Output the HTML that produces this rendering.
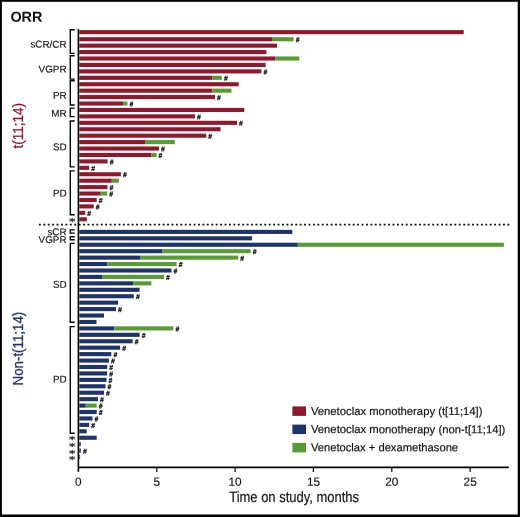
<!DOCTYPE html>
<html lang="en"><head><meta charset="utf-8"><title>ORR</title>
<style>html,body{margin:0;padding:0;background:#fff}svg{display:block}text{font-family:"Liberation Sans",Arial,Helvetica,sans-serif}text.ast{font-family:"DejaVu Sans","Liberation Sans",sans-serif}</style></head><body>
<svg width="520" height="517" viewBox="0 0 520 517">
<rect x="0" y="0" width="520" height="517" fill="#fff"/>
<rect x="0" y="0" width="520" height="1.8" fill="#000"/><rect x="0" y="0" width="1.9" height="517" fill="#000"/><rect x="517.7" y="0" width="2.3" height="517" fill="#000"/><rect x="0" y="514.5" width="520" height="2.5" fill="#000"/>
<text transform="rotate(0.03 10.40 21.80)" x="10.40" y="21.80" font-size="14.4" font-weight="bold" fill="#111">ORR</text>
<g shape-rendering="auto">
<rect x="79.3" y="30.10" width="384.4" height="4.1" fill="#8f182c"/>
<rect x="79.3" y="37.18" width="192.7" height="4.1" fill="#8f182c"/>
<rect x="272" y="37.18" width="21.6" height="4.1" fill="#579c32"/>
<rect x="79.3" y="43.61" width="197.7" height="4.1" fill="#8f182c"/>
<rect x="79.3" y="50.04" width="187.1" height="4.1" fill="#8f182c"/>
<rect x="79.3" y="56.47" width="195.9" height="4.1" fill="#8f182c"/>
<rect x="275.2" y="56.47" width="24.1" height="4.1" fill="#579c32"/>
<rect x="79.3" y="62.90" width="186.3" height="4.1" fill="#8f182c"/>
<rect x="79.3" y="69.33" width="182.1" height="4.1" fill="#8f182c"/>
<rect x="79.3" y="75.76" width="133.2" height="4.1" fill="#8f182c"/>
<rect x="212.5" y="75.76" width="9.3" height="4.1" fill="#579c32"/>
<rect x="79.3" y="82.19" width="159.4" height="4.1" fill="#8f182c"/>
<rect x="79.3" y="88.62" width="133.2" height="4.1" fill="#8f182c"/>
<rect x="212.5" y="88.62" width="18.9" height="4.1" fill="#579c32"/>
<rect x="79.3" y="95.05" width="135.7" height="4.1" fill="#8f182c"/>
<rect x="79.3" y="101.48" width="43.7" height="4.1" fill="#8f182c"/>
<rect x="123" y="101.48" width="4.5" height="4.1" fill="#579c32"/>
<rect x="79.3" y="107.91" width="164.9" height="4.1" fill="#8f182c"/>
<rect x="79.3" y="114.34" width="115.7" height="4.1" fill="#8f182c"/>
<rect x="79.3" y="120.77" width="157.7" height="4.1" fill="#8f182c"/>
<rect x="79.3" y="127.20" width="141.3" height="4.1" fill="#8f182c"/>
<rect x="79.3" y="133.63" width="126.9" height="4.1" fill="#8f182c"/>
<rect x="79.3" y="140.06" width="65.8" height="4.1" fill="#8f182c"/>
<rect x="145.1" y="140.06" width="29.7" height="4.1" fill="#579c32"/>
<rect x="79.3" y="146.49" width="79.7" height="4.1" fill="#8f182c"/>
<rect x="79.3" y="152.92" width="72.1" height="4.1" fill="#8f182c"/>
<rect x="151.4" y="152.92" width="5.1" height="4.1" fill="#579c32"/>
<rect x="79.3" y="159.35" width="28.3" height="4.1" fill="#8f182c"/>
<rect x="79.3" y="165.78" width="9.9" height="4.1" fill="#8f182c"/>
<rect x="79.3" y="172.21" width="41.6" height="4.1" fill="#8f182c"/>
<rect x="79.3" y="178.64" width="32.5" height="4.1" fill="#8f182c"/>
<rect x="111.8" y="178.64" width="7.1" height="4.1" fill="#579c32"/>
<rect x="79.3" y="185.07" width="28.2" height="4.1" fill="#8f182c"/>
<rect x="79.3" y="191.50" width="20.7" height="4.1" fill="#8f182c"/>
<rect x="100" y="191.50" width="7.2" height="4.1" fill="#579c32"/>
<rect x="79.3" y="197.93" width="17.4" height="4.1" fill="#8f182c"/>
<rect x="79.3" y="204.36" width="14.4" height="4.1" fill="#8f182c"/>
<rect x="79.3" y="210.79" width="5.9" height="4.1" fill="#8f182c"/>
<rect x="79.3" y="217.22" width="7.5" height="4.1" fill="#8f182c"/>
<rect x="79.3" y="229.85" width="213.0" height="4.1" fill="#1e3369"/>
<rect x="79.3" y="236.28" width="172.7" height="4.1" fill="#1e3369"/>
<rect x="79.3" y="242.72" width="218.5" height="4.1" fill="#1e3369"/>
<rect x="297.8" y="242.72" width="206.1" height="4.1" fill="#579c32"/>
<rect x="79.3" y="249.15" width="82.9" height="4.1" fill="#1e3369"/>
<rect x="162.2" y="249.15" width="88.4" height="4.1" fill="#579c32"/>
<rect x="79.3" y="255.58" width="61.3" height="4.1" fill="#1e3369"/>
<rect x="140.6" y="255.58" width="97.6" height="4.1" fill="#579c32"/>
<rect x="79.3" y="262.01" width="28.2" height="4.1" fill="#1e3369"/>
<rect x="107.5" y="262.01" width="69.1" height="4.1" fill="#579c32"/>
<rect x="79.3" y="268.45" width="92.2" height="4.1" fill="#1e3369"/>
<rect x="79.3" y="274.88" width="22.7" height="4.1" fill="#1e3369"/>
<rect x="102" y="274.88" width="62.0" height="4.1" fill="#579c32"/>
<rect x="79.3" y="281.31" width="53.7" height="4.1" fill="#1e3369"/>
<rect x="133" y="281.31" width="18.4" height="4.1" fill="#579c32"/>
<rect x="79.3" y="287.75" width="60.3" height="4.1" fill="#1e3369"/>
<rect x="79.3" y="294.18" width="54.5" height="4.1" fill="#1e3369"/>
<rect x="79.3" y="300.61" width="38.8" height="4.1" fill="#1e3369"/>
<rect x="79.3" y="307.05" width="36.7" height="4.1" fill="#1e3369"/>
<rect x="79.3" y="313.48" width="24.7" height="4.1" fill="#1e3369"/>
<rect x="79.3" y="319.91" width="17.2" height="4.1" fill="#1e3369"/>
<rect x="79.3" y="326.35" width="35.0" height="4.1" fill="#1e3369"/>
<rect x="114.3" y="326.35" width="59.0" height="4.1" fill="#579c32"/>
<rect x="79.3" y="332.78" width="60.3" height="4.1" fill="#1e3369"/>
<rect x="79.3" y="339.21" width="53.3" height="4.1" fill="#1e3369"/>
<rect x="79.3" y="345.64" width="40.8" height="4.1" fill="#1e3369"/>
<rect x="79.3" y="352.08" width="32.0" height="4.1" fill="#1e3369"/>
<rect x="79.3" y="358.51" width="29.7" height="4.1" fill="#1e3369"/>
<rect x="79.3" y="364.94" width="27.9" height="4.1" fill="#1e3369"/>
<rect x="79.3" y="371.38" width="27.9" height="4.1" fill="#1e3369"/>
<rect x="79.3" y="377.81" width="27.2" height="4.1" fill="#1e3369"/>
<rect x="79.3" y="384.24" width="26.2" height="4.1" fill="#1e3369"/>
<rect x="79.3" y="390.67" width="24.7" height="4.1" fill="#1e3369"/>
<rect x="79.3" y="397.11" width="18.7" height="4.1" fill="#1e3369"/>
<rect x="79.3" y="403.54" width="6.5" height="4.1" fill="#1e3369"/>
<rect x="85.8" y="403.54" width="10.9" height="4.1" fill="#579c32"/>
<rect x="79.3" y="409.97" width="17.4" height="4.1" fill="#1e3369"/>
<rect x="79.3" y="416.41" width="13.2" height="4.1" fill="#1e3369"/>
<rect x="79.3" y="422.84" width="9.9" height="4.1" fill="#1e3369"/>
<rect x="79.3" y="429.27" width="7.4" height="4.1" fill="#1e3369"/>
<rect x="79.3" y="435.71" width="17.4" height="4.1" fill="#1e3369"/>
<rect x="79.3" y="442.14" width="1.5" height="4.1" fill="#1e3369"/>
<rect x="79.3" y="448.57" width="1.5" height="4.1" fill="#1e3369"/>
<rect x="79.3" y="455.00" width="0.8" height="4.1" fill="#1e3369"/>
</g>
<g font-size="6.6" font-weight="bold" font-style="italic" fill="#151515" stroke="#151515" stroke-width="0.3">
<text transform="rotate(0.03 295.70 42.03)" x="295.70" y="42.03">#</text>
<text transform="rotate(0.03 263.50 74.18)" x="263.50" y="74.18">#</text>
<text transform="rotate(0.03 223.90 80.61)" x="223.90" y="80.61">#</text>
<text transform="rotate(0.03 217.10 99.90)" x="217.10" y="99.90">#</text>
<text transform="rotate(0.03 129.60 106.33)" x="129.60" y="106.33">#</text>
<text transform="rotate(0.03 197.10 119.19)" x="197.10" y="119.19">#</text>
<text transform="rotate(0.03 239.10 125.62)" x="239.10" y="125.62">#</text>
<text transform="rotate(0.03 208.30 138.48)" x="208.30" y="138.48">#</text>
<text transform="rotate(0.03 161.10 151.34)" x="161.10" y="151.34">#</text>
<text transform="rotate(0.03 158.60 157.77)" x="158.60" y="157.77">#</text>
<text transform="rotate(0.03 109.70 164.20)" x="109.70" y="164.20">#</text>
<text transform="rotate(0.03 91.30 170.63)" x="91.30" y="170.63">#</text>
<text transform="rotate(0.03 123.00 177.06)" x="123.00" y="177.06">#</text>
<text transform="rotate(0.03 109.60 189.92)" x="109.60" y="189.92">#</text>
<text transform="rotate(0.03 109.30 196.35)" x="109.30" y="196.35">#</text>
<text transform="rotate(0.03 98.80 202.78)" x="98.80" y="202.78">#</text>
<text transform="rotate(0.03 95.80 209.21)" x="95.80" y="209.21">#</text>
<text transform="rotate(0.03 87.30 215.64)" x="87.30" y="215.64">#</text>
<text transform="rotate(0.03 252.70 254.00)" x="252.70" y="254.00">#</text>
<text transform="rotate(0.03 240.30 260.43)" x="240.30" y="260.43">#</text>
<text transform="rotate(0.03 178.70 266.87)" x="178.70" y="266.87">#</text>
<text transform="rotate(0.03 173.60 273.30)" x="173.60" y="273.30">#</text>
<text transform="rotate(0.03 166.10 279.73)" x="166.10" y="279.73">#</text>
<text transform="rotate(0.03 135.90 299.03)" x="135.90" y="299.03">#</text>
<text transform="rotate(0.03 118.10 311.90)" x="118.10" y="311.90">#</text>
<text transform="rotate(0.03 175.40 331.20)" x="175.40" y="331.20">#</text>
<text transform="rotate(0.03 141.70 337.63)" x="141.70" y="337.63">#</text>
<text transform="rotate(0.03 134.70 344.06)" x="134.70" y="344.06">#</text>
<text transform="rotate(0.03 122.20 350.49)" x="122.20" y="350.49">#</text>
<text transform="rotate(0.03 113.40 356.93)" x="113.40" y="356.93">#</text>
<text transform="rotate(0.03 111.10 363.36)" x="111.10" y="363.36">#</text>
<text transform="rotate(0.03 109.30 369.79)" x="109.30" y="369.79">#</text>
<text transform="rotate(0.03 109.30 376.23)" x="109.30" y="376.23">#</text>
<text transform="rotate(0.03 108.60 382.66)" x="108.60" y="382.66">#</text>
<text transform="rotate(0.03 107.60 389.09)" x="107.60" y="389.09">#</text>
<text transform="rotate(0.03 106.10 395.52)" x="106.10" y="395.52">#</text>
<text transform="rotate(0.03 100.10 401.96)" x="100.10" y="401.96">#</text>
<text transform="rotate(0.03 98.80 408.39)" x="98.80" y="408.39">#</text>
<text transform="rotate(0.03 98.80 414.82)" x="98.80" y="414.82">#</text>
<text transform="rotate(0.03 94.60 421.26)" x="94.60" y="421.26">#</text>
<text transform="rotate(0.03 91.30 427.69)" x="91.30" y="427.69">#</text>
<text transform="rotate(0.03 82.90 453.42)" x="82.90" y="453.42">#</text>
</g>
<line x1="38.9" y1="224.6" x2="509.4" y2="224.6" stroke="#111" stroke-width="1.9" stroke-dasharray="1.9 2.52"/>
<line x1="78.4" y1="29" x2="78.4" y2="471.8" stroke="#000" stroke-width="1.6"/>
<line x1="78" y1="467.4" x2="508.8" y2="467.4" stroke="#000" stroke-width="1.6"/>
<line x1="156.8" y1="467.4" x2="156.8" y2="471.9" stroke="#000" stroke-width="1.2"/>
<line x1="235.1" y1="467.4" x2="235.1" y2="471.9" stroke="#000" stroke-width="1.2"/>
<line x1="313.4" y1="467.4" x2="313.4" y2="471.9" stroke="#000" stroke-width="1.2"/>
<line x1="391.8" y1="467.4" x2="391.8" y2="471.9" stroke="#000" stroke-width="1.2"/>
<line x1="470.1" y1="467.4" x2="470.1" y2="471.9" stroke="#000" stroke-width="1.2"/>
<g font-size="11.8" fill="#151515" stroke="#151515" stroke-width="0.15" text-anchor="middle">
<text transform="rotate(0.03 78.40 485.70)" x="78.40" y="485.70">0</text>
<text transform="rotate(0.03 156.75 485.70)" x="156.75" y="485.70">5</text>
<text transform="rotate(0.03 235.10 485.70)" x="235.10" y="485.70">10</text>
<text transform="rotate(0.03 313.45 485.70)" x="313.45" y="485.70">15</text>
<text transform="rotate(0.03 391.80 485.70)" x="391.80" y="485.70">20</text>
<text transform="rotate(0.03 470.15 485.70)" x="470.15" y="485.70">25</text>
</g>
<text transform="rotate(0.03 229.20 502.20)" x="229.20" y="502.20" font-size="15" fill="#151515" stroke="#151515" stroke-width="0.2" textLength="129.8" lengthAdjust="spacingAndGlyphs">Time on study, months</text>
<g fill="none" stroke="#000" stroke-width="1.4">
<path d="M74.7 29.70H70.3V53.40H74.7"/>
<path d="M74.7 55.70H70.3V79.10H74.7"/>
<path d="M74.7 80.70H70.3V105.00H74.7"/>
<path d="M74.7 108.10H70.3V116.60H74.7"/>
<path d="M74.7 121.00H70.3V166.90H74.7"/>
<path d="M74.7 170.90H70.3V214.70H74.7"/>
<path d="M74.7 229.90H70.3V233.10H74.7"/>
<path d="M74.7 236.70H70.3V239.70H74.7"/>
<path d="M74.7 243.40H70.3V322.30H74.7"/>
<path d="M74.7 326.60H70.3V433.20H74.7"/>
</g>
<g font-size="9.9" fill="#151515" stroke="#151515" stroke-width="0.15" text-anchor="end">
<text transform="rotate(0.03 66.60 47.65)" x="66.60" y="47.65">sCR/CR</text>
<text transform="rotate(0.03 66.60 72.55)" x="66.60" y="72.55">VGPR</text>
<text transform="rotate(0.03 66.60 98.75)" x="66.60" y="98.75">PR</text>
<text transform="rotate(0.03 66.60 116.75)" x="66.60" y="116.75">MR</text>
<text transform="rotate(0.03 66.60 150.25)" x="66.60" y="150.25">SD</text>
<text transform="rotate(0.03 66.60 196.45)" x="66.60" y="196.45">PD</text>
<text transform="rotate(0.03 66.60 235.35)" x="66.60" y="235.35">sCR</text>
<text transform="rotate(0.03 66.60 243.05)" x="66.60" y="243.05">VGPR</text>
<text transform="rotate(0.03 66.60 287.75)" x="66.60" y="287.75">SD</text>
<text transform="rotate(0.03 66.60 382.55)" x="66.60" y="382.55">PD</text>
</g>
<g font-size="11.5" font-family="DejaVu Sans" fill="#151515" stroke="#151515" stroke-width="0.3" text-anchor="middle" style="font-family:'DejaVu Sans',sans-serif">
<text class="ast" transform="translate(72.3 220.2) scale(1.12 0.82)" x="0" y="5.4">*</text>
<text class="ast" transform="translate(72.3 438.8) scale(1.12 0.82)" x="0" y="5.4">*</text>
<text class="ast" transform="translate(72.3 445.2) scale(1.12 0.82)" x="0" y="5.4">*</text>
<text class="ast" transform="translate(72.3 452.1) scale(1.12 0.82)" x="0" y="5.4">*</text>
<text class="ast" transform="translate(72.3 458.6) scale(1.12 0.82)" x="0" y="5.4">*</text>
</g>
<text transform="translate(23.3 148.6) rotate(-90)" font-size="15.2" fill="#8f182c" stroke="#8f182c" stroke-width="0.3" textLength="45.6" lengthAdjust="spacingAndGlyphs">t(11;14)</text>
<text transform="translate(23.3 385.4) rotate(-90)" font-size="15.2" fill="#1e3369" stroke="#1e3369" stroke-width="0.3" textLength="73.6" lengthAdjust="spacingAndGlyphs">Non-t(11;14)</text>
<rect x="292.4" y="406.4" width="13.6" height="9.5" fill="#8f182c"/>
<text transform="rotate(0.03 310.90 414.90)" x="310.90" y="414.90" font-size="11.4" fill="#151515" stroke="#151515" stroke-width="0.2" textLength="171.6" lengthAdjust="spacingAndGlyphs">Venetoclax monotherapy (t[11;14])</text>
<rect x="292.4" y="424.6" width="13.6" height="9.5" fill="#1e3369"/>
<text transform="rotate(0.03 310.90 433.10)" x="310.90" y="433.10" font-size="11.4" fill="#151515" stroke="#151515" stroke-width="0.2" textLength="194.5" lengthAdjust="spacingAndGlyphs">Venetoclax monotherapy (non-t[11;14])</text>
<rect x="292.4" y="442.9" width="13.6" height="9.5" fill="#579c32"/>
<text transform="rotate(0.03 310.90 451.30)" x="310.90" y="451.30" font-size="11.4" fill="#151515" stroke="#151515" stroke-width="0.2" textLength="147.2" lengthAdjust="spacingAndGlyphs">Venetoclax + dexamethasone</text>
</svg></body></html>
